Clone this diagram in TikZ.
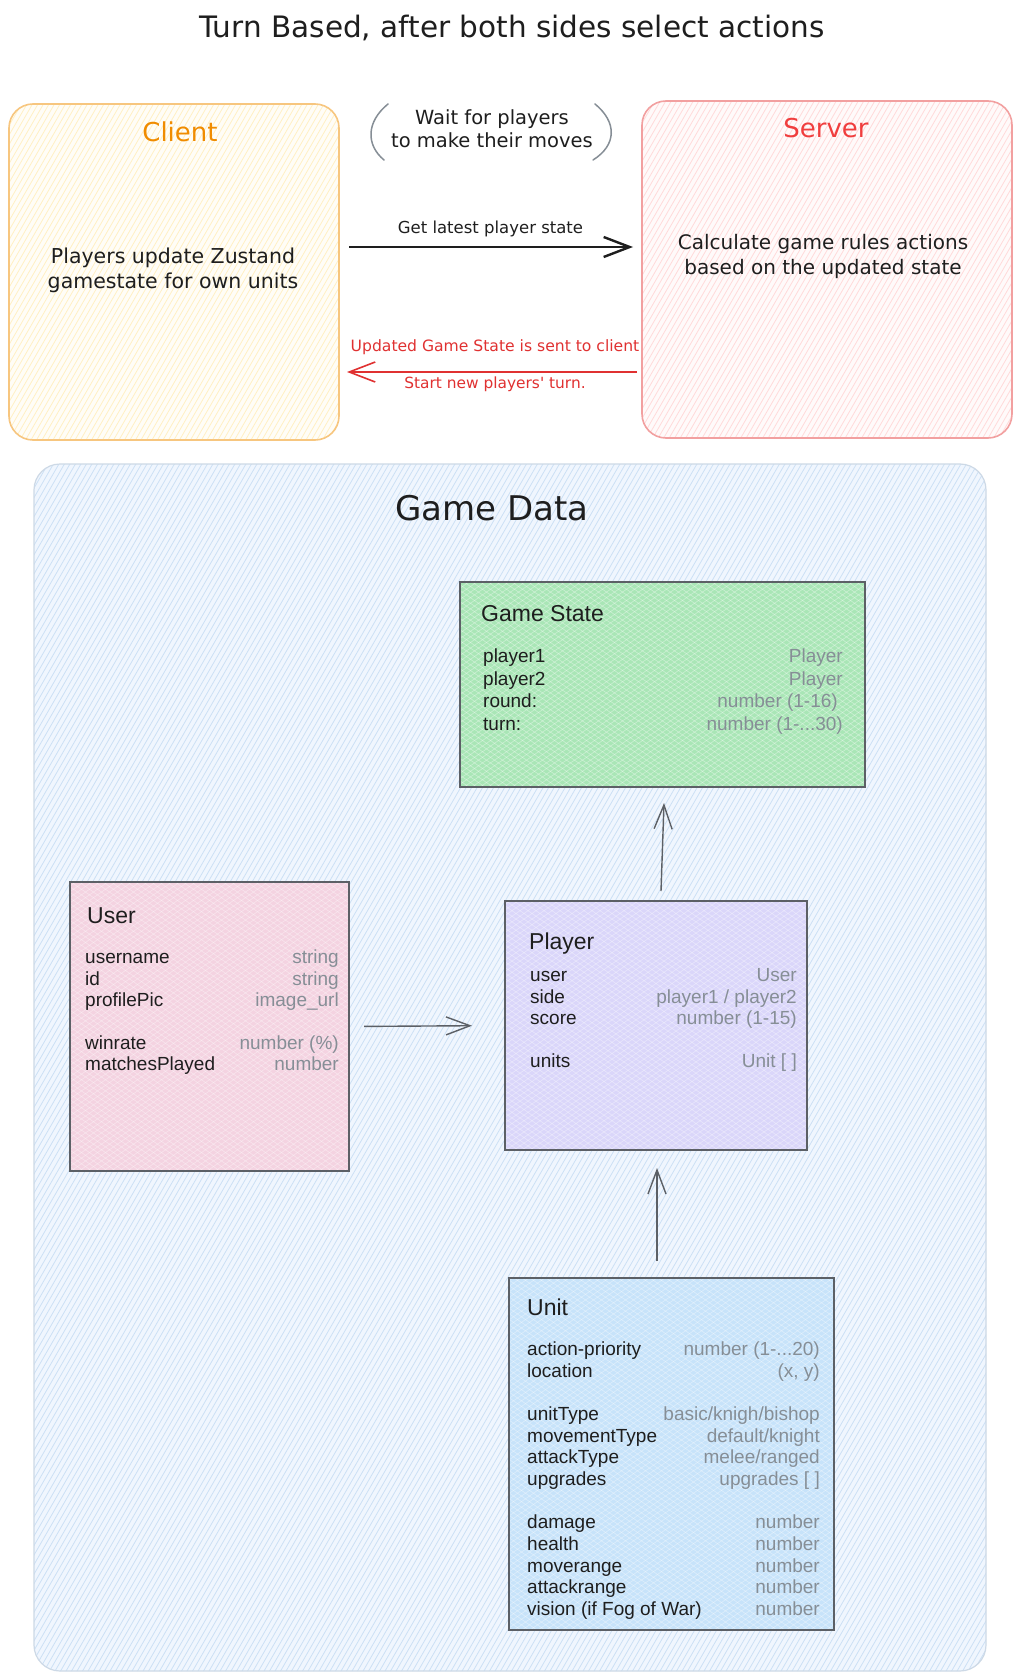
\documentclass[tikz,border=0pt]{standalone}
\usepackage{fontspec}
\setmainfont{Liberation Sans}
\newfontfamily\hand{DejaVu Sans}
\usetikzlibrary{arrows.meta,calc}
\definecolor{ink}{HTML}{1E1E1E}
\definecolor{valgray}{HTML}{868E96}
\definecolor{clientFill}{HTML}{FFFDF7}
\definecolor{clientHatch}{HTML}{FFF0C4}
\definecolor{clientStroke}{HTML}{F7C67F}
\definecolor{clientText}{HTML}{F08C00}
\definecolor{serverFill}{HTML}{FFFAFA}
\definecolor{serverHatch}{HTML}{FFDADA}
\definecolor{serverStroke}{HTML}{F2A0A0}
\definecolor{serverText}{HTML}{F03E3E}
\definecolor{redArrow}{HTML}{E03131}
\definecolor{dataFill}{HTML}{F0F6FE}
\definecolor{dataHatch}{HTML}{CCE0F5}
\definecolor{dataStroke}{HTML}{CDD9E6}
\definecolor{gsFill}{HTML}{A9E6B6}
\definecolor{userFill}{HTML}{F4D3E1}
\definecolor{playerFill}{HTML}{DAD6FA}
\definecolor{unitFill}{HTML}{C7E3FA}
\definecolor{boxStroke}{HTML}{5C6066}
\definecolor{parenGray}{HTML}{868E96}
\newcommand\rowfont{\fontsize{19}{22}\selectfont}
\newcommand\headfont{\fontsize{23}{26}\selectfont}
\newcommand\frow[6]{%
  \node[fl] (#1l) at (#2,#4) {#5};
  \node[fv] (#1v) at (#3,#4) {#6};}
% #1 node, #2 angle, #3 spacing, #4 half range, #5 corner radius, #6 line style
\newcommand\hatch[6]{%
  \begin{scope}
  \clip[rounded corners=#5] (#1.north west) rectangle (#1.south east);
  \pgfmathtruncatemacro\hn{2*#4/#3}
  \foreach \i in {0,...,\hn}{
    \pgfmathsetmacro\kk{-#4+\i*#3}
    \draw[#6] ($(#1.center)+(\kk,0)+(#2:-1000)$) -- ($(#1.center)+(\kk,0)+(#2:1000)$);
  }
  \end{scope}}
\begin{document}
\begin{tikzpicture}[x=1pt,y=-1pt,
  bigbox/.style={inner sep=0pt, outer sep=0pt},
  border/.style={rounded corners=24pt, line width=1.6pt},
  classbox/.style={inner sep=0pt, outer sep=0pt},
  classborder/.style={draw=boxStroke, line width=1.5pt},
  fl/.style={anchor=base west, font=\rowfont, text=ink, inner sep=0pt},
  fv/.style={anchor=base east, font=\rowfont, text=valgray, inner sep=0pt},
  ftitle/.style={anchor=base west, font=\headfont, text=ink, inner sep=0pt},
  handtxt/.style={font=\hand\fontsize{20.5}{25}\selectfont, align=center, inner sep=0pt, text=ink},
  arr/.style={-{Straight Barb[length=26pt,width=20pt]}, line width=1.5pt},
  innerarr/.style={-{Straight Barb[length=24pt,width=18pt]}, line width=1.4pt, draw=boxStroke},
  whitehatch/.style={draw=white, draw opacity=0.35, line width=0.7pt},
]
\useasboundingbox (0,0) rectangle (1022,1680);
\fill[white] (0,0) rectangle (1022,1680);

% title
\node[font=\hand\fontsize{29.5}{33}\selectfont, text=ink, inner sep=0pt] (title) at (512,28) {Turn Based, after both sides select actions};

% client / server
\node[bigbox, rounded corners=24pt, fill=clientFill, minimum width=330pt, minimum height=336pt] (client) at (174,272) {};
\hatch{client}{120}{5.5}{420}{24pt}{draw=clientHatch, line width=0.8pt}
\draw[border, draw=clientStroke] (client.north west) rectangle (client.south east);
\node[bigbox, rounded corners=24pt, fill=serverFill, minimum width=370pt, minimum height=337pt] (server) at (827,269.5) {};
\hatch{server}{120}{5.5}{440}{24pt}{draw=serverHatch, line width=0.8pt}
\draw[border, draw=serverStroke] (server.north west) rectangle (server.south east);

\node[font=\hand\fontsize{26}{30}\selectfont, text=clientText, inner sep=0pt] (clientlbl) at (180,132) {Client};
\node[handtxt] (clienttxt) at (173,270.5) {Players update Zustand\\gamestate for own units};
\node[font=\hand\fontsize{26}{30}\selectfont, text=serverText, inner sep=0pt] (serverlbl) at (826,128) {Server};
\node[handtxt, font=\hand\fontsize{20}{25}\selectfont] (servertxt) at (823,256.5) {Calculate game rules actions\\based on the updated state};

% wait text with brackets
\node[handtxt, font=\hand\fontsize{19.5}{23}\selectfont] (wait) at (492,128.5) {Wait for players\\to make their moves};
\draw[parenGray, line width=1.5pt, line cap=round] (388,104) .. controls (366,122) and (366,145) .. (384,160);
\draw[parenGray, line width=1.5pt, line cap=round] (595,104) .. controls (617,122) and (617,145) .. (593,160);

% arrows client <-> server
\draw[arr, draw=ink, line width=2.4pt, shorten <=10pt, shorten >=9pt] ([yshift=25pt]client.east) -- ([yshift=22.5pt]server.west)
  node[midway, above=9pt, font=\hand\fontsize{16.5}{20}\selectfont, text=ink, inner sep=0pt] (getlbl) {Get latest player state};
\draw[arr, draw=redArrow, line width=1.6pt, shorten <=5pt, shorten >=8pt] ([yshift=-102.5pt]server.west) -- ([yshift=-100pt]client.east);
\node[font=\hand\fontsize{15.6}{19}\selectfont, text=redArrow, inner sep=0pt] (updlbl) at (495,347) {Updated Game State is sent to client};
\node[font=\hand\fontsize{15.4}{19}\selectfont, text=redArrow, inner sep=0pt] (startlbl) at (495,384) {Start new players' turn.};

% game data container
\node[bigbox, rounded corners=26pt, fill=dataFill, minimum width=952pt, minimum height=1207pt] (data) at (510,1067.5) {};
\hatch{data}{120}{5.5}{860}{26pt}{draw=dataHatch, line width=0.8pt}
\draw[rounded corners=26pt, line width=1.2pt, draw=dataStroke] (data.north west) rectangle (data.south east);
\node[font=\hand\fontsize{34}{38}\selectfont, text=ink, inner sep=0pt] (datalbl) at (492,508) {Game Data};

% Game State
\node[classbox, fill=gsFill, minimum width=405pt, minimum height=205pt] (gs) at (662.5,684.5) {};
\hatch{gs}{35}{8}{380}{0pt}{whitehatch}
\hatch{gs}{145}{8}{380}{0pt}{whitehatch}
\draw[classborder] (gs.north west) rectangle (gs.south east);
\node[ftitle] (gst) at (481,621) {Game State};
\frow{gsa}{483}{843}{662}{player1}{Player}
\frow{gsb}{483}{843}{685}{player2}{Player}
\frow{gsc}{483}{838}{707}{round:}{number (1-16)}
\frow{gsd}{483}{843}{730}{turn:}{number (1-...30)}

% User
\node[classbox, fill=userFill, minimum width=279pt, minimum height=289pt] (user) at (209.5,1026.5) {};
\hatch{user}{35}{8}{380}{0pt}{whitehatch}
\hatch{user}{145}{8}{380}{0pt}{whitehatch}
\draw[classborder] (user.north west) rectangle (user.south east);
\node[ftitle] (usert) at (87,923) {User};
\frow{ua}{85}{339}{963}{username}{string}
\frow{ub}{85}{339}{985}{id}{string}
\frow{uc}{85}{339}{1006}{profilePic}{image\_url}
\frow{ud}{85}{339}{1049}{winrate}{number (\%)}
\frow{ue}{85}{339}{1070}{matchesPlayed}{number}

% Player
\node[classbox, fill=playerFill, minimum width=302pt, minimum height=249pt] (player) at (656,1025.5) {};
\hatch{player}{35}{8}{380}{0pt}{whitehatch}
\hatch{player}{145}{8}{380}{0pt}{whitehatch}
\draw[classborder] (player.north west) rectangle (player.south east);
\node[ftitle] (playert) at (529,949) {Player};
\frow{pa}{530}{797}{981}{user}{User}
\frow{pb}{530}{797}{1003}{side}{player1 / player2}
\frow{pc}{530}{797}{1024}{score}{number (1-15)}
\frow{pd}{530}{797}{1067}{units}{Unit [ ]}

% Unit
\node[classbox, fill=unitFill, minimum width=325pt, minimum height=352pt] (unit) at (671.5,1454) {};
\hatch{unit}{35}{8}{450}{0pt}{whitehatch}
\hatch{unit}{145}{8}{450}{0pt}{whitehatch}
\draw[classborder] (unit.north west) rectangle (unit.south east);
\node[ftitle] (unitt) at (527,1315) {Unit};
\frow{na}{527}{820}{1355}{action-priority}{number (1-...20)}
\frow{nb}{527}{820}{1377}{location}{(x, y)}
\frow{nc}{527}{820}{1420}{unitType}{basic/knigh/bishop}
\frow{nd}{527}{820}{1442}{movementType}{default/knight}
\frow{ne}{527}{820}{1463}{attackType}{melee/ranged}
\frow{nf}{527}{820}{1485}{upgrades}{upgrades [ ]}
\frow{ng}{527}{820}{1528}{damage}{number}
\frow{nh}{527}{820}{1550}{health}{number}
\frow{ni}{527}{820}{1572}{moverange}{number}
\frow{nj}{527}{820}{1593}{attackrange}{number}
\frow{nk}{527}{820}{1615}{vision (if Fog of War)}{number}

% connectors
\draw[innerarr, shorten <=15pt, shorten >=33pt] (user.east) -- (player.west);
\draw[innerarr] ([xshift=5pt,yshift=10pt]player.north) -- ([xshift=1.5pt,yshift=-16pt]gs.south);
\draw[innerarr] ([xshift=-14.5pt,yshift=17pt]unit.north) -- ([xshift=1pt,yshift=-18pt]player.south);
\end{tikzpicture}
\end{document}
